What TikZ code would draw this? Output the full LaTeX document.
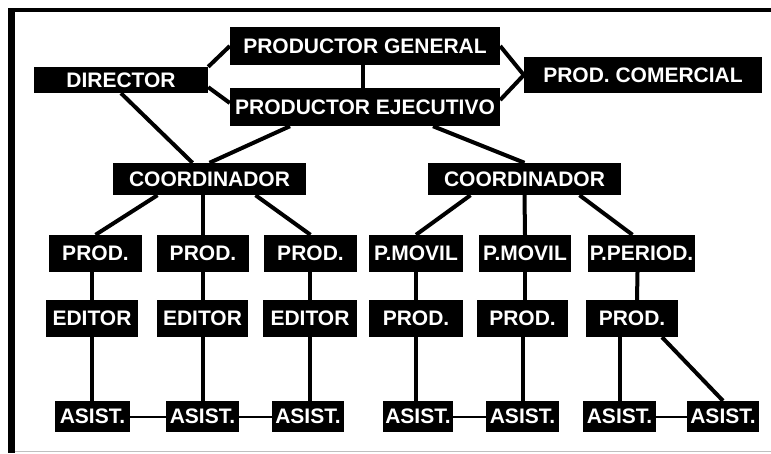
\documentclass[tikz,border=0pt]{standalone}
\usepackage{fontspec}
\setmainfont{Liberation Sans}
\tikzset{
	cargo/.style={fill=black, text=white, inner sep=0pt, font=\fontsize{21}{21}\selectfont\bfseries},
	rama/.style={line width=4pt},
	enlace/.style={line width=2pt},
}
\begin{document}
\begin{tikzpicture}[x=1pt,y=-1pt]
	\useasboundingbox (0,0) rectangle (771,453);
	% marco
	\draw[line width=7pt] (11.5,8) -- (11.5,453);
	\draw[line width=4pt] (8,10) -- (771,10);
	\draw[gray!50, line width=1pt] (15,451.5) -- (771,451.5);

	% direccion
	\draw (365,46) node[cargo, minimum width=270pt, minimum height=38pt] (gen) {PRODUCTOR GENERAL}
	(365,107) node[cargo, minimum width=270pt, minimum height=38pt] (eje) {PRODUCTOR EJECUTIVO}
	(121,80) node[cargo, minimum width=174pt, minimum height=26pt] (dir) {DIRECTOR}
	(643,75) node[cargo, minimum width=238pt, minimum height=36pt] (com) {PROD. COMERCIAL}
	(209.5,179) node[cargo, minimum width=193pt, minimum height=32pt] (c1) {COORDINADOR}
	(524.5,179) node[cargo, minimum width=193pt, minimum height=32pt] (c2) {COORDINADOR};

	% productores
	\draw (95.5,253.5) node[cargo, minimum width=93pt, minimum height=37pt] (p1) {PROD.}
	(203,253.5) node[cargo, minimum width=92pt, minimum height=37pt] (p2) {PROD.}
	(310.5,253.5) node[cargo, minimum width=93pt, minimum height=37pt] (p3) {PROD.}
	(416,253.5) node[cargo, minimum width=94pt, minimum height=37pt] (m1) {P.MOVIL}
	(525,253.5) node[cargo, minimum width=92pt, minimum height=37pt] (m2) {P.MOVIL}
	(641.5,253.5) node[cargo, minimum width=107pt, minimum height=37pt] (pp) {P.PERIOD.};

	% editores
	\draw (92,318.5) node[cargo, minimum width=92pt, minimum height=37pt] (e1) {EDITOR}
	(202.5,318.5) node[cargo, minimum width=91pt, minimum height=37pt] (e2) {EDITOR}
	(310,318.5) node[cargo, minimum width=94pt, minimum height=37pt] (e3) {EDITOR}
	(416,318.5) node[cargo, minimum width=94pt, minimum height=37pt] (q1) {PROD.}
	(522.5,318.5) node[cargo, minimum width=91pt, minimum height=37pt] (q2) {PROD.}
	(632,318.5) node[cargo, minimum width=92pt, minimum height=37pt] (q3) {PROD.};

	% asistentes
	\draw (92.5,416.5) node[cargo, minimum width=75pt, minimum height=31pt] (a1) {ASIST.}
	(202.5,416.5) node[cargo, minimum width=73pt, minimum height=31pt] (a2) {ASIST.}
	(308,416.5) node[cargo, minimum width=72pt, minimum height=31pt] (a3) {ASIST.}
	(418,416.5) node[cargo, minimum width=70pt, minimum height=31pt] (a4) {ASIST.}
	(522.5,416.5) node[cargo, minimum width=73pt, minimum height=31pt] (a5) {ASIST.}
	(619.5,416.5) node[cargo, minimum width=73pt, minimum height=31pt] (a6) {ASIST.}
	(723,416.5) node[cargo, minimum width=72pt, minimum height=31pt] (a7) {ASIST.};

	\draw[rama] (dir.north east) -- (gen.west);
	\draw[rama] ([yshift=6pt]dir.south east) -- ([yshift=4pt]eje.west);
	\draw[rama] (gen.east) -- (com.west);
	\draw[rama] ([yshift=7pt]eje.east) -- (com.west);
	\draw[rama] ([xshift=-2pt]gen.south) -- ([xshift=-2pt]eje.north);
	\draw[rama] (dir.south) -- ([xshift=-17pt]c1.north);
	\draw[rama] ([xshift=-75pt]eje.south) -- (c1.north);
	\draw[rama] ([xshift=68pt]eje.south) -- (c2.north);

	\draw[rama] ([xshift=-52pt]c1.south) -- (p1.north);
	\draw[rama] (p2.north |- c1.south) -- (p2.north);
	\draw[rama] ([xshift=46pt]c1.south) -- (p3.north);
	\draw[rama] ([xshift=-54pt]c2.south) -- (m1.north);
	\draw[rama] (c2.south) -- (m2.north);
	\draw[rama] ([xshift=55pt]c2.south) -- ([xshift=-9pt]pp.north);

	\draw[rama] (e1.north |- p1.south) -- (e1.north);
	\draw[rama] (e2.north |- p2.south) -- (e2.north);
	\draw[rama] (e3.north |- p3.south) -- (e3.north);
	\draw[rama] (m1.south) -- (q1.north);
	\draw[rama] (m2.south) |- (q2.north);
	\draw[rama] ([xshift=-4pt]pp.south) -- ([xshift=5pt]q3.north);

	\draw[rama] (e1.south) -- (e1.south |- a1.north);
	\draw[rama] (e2.south) -- (e2.south |- a2.north);
	\draw[rama] (e3.south) -- (e3.south |- a3.north);
	\draw[rama] (q1.south) -- (q1.south |- a4.north);
	\draw[rama] (q2.south) -- (q2.south |- a5.north);
	\draw[rama] (a6.north |- q3.south) -- (a6.north);
	\draw[rama] ([xshift=30pt]q3.south) -- (a7.north);

	\draw[enlace] (a1.east) -- (a2.west);
	\draw[enlace] (a2.east) -- (a3.west);
	\draw[enlace] (a4.east) -- (a5.west);
	\draw[enlace] (a6.east) -- (a7.west);
\end{tikzpicture}
\end{document}
